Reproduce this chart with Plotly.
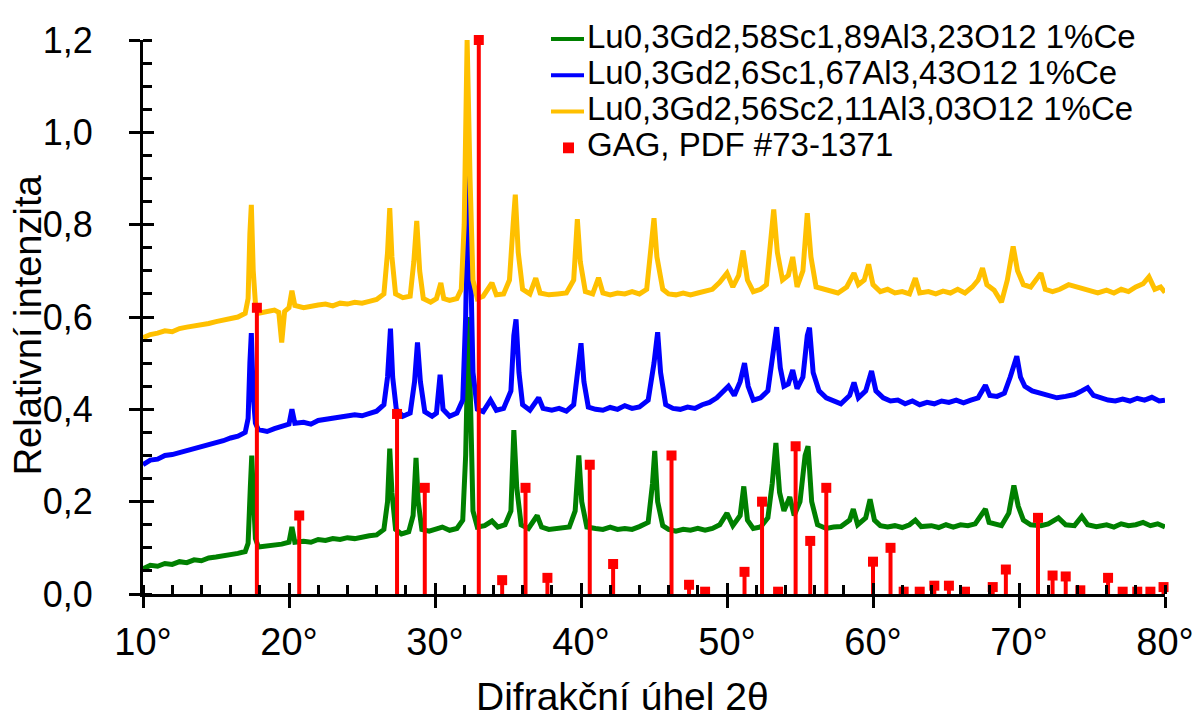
import plotly.graph_objects as go

# ---------------- data ----------------
green_name = "Lu0,3Gd2,58Sc1,89Al3,23O12 1%Ce"
blue_name = "Lu0,3Gd2,6Sc1,67Al3,43O12 1%Ce"
yellow_name = "Lu0,3Gd2,56Sc2,11Al3,03O12 1%Ce"
pdf_name = "GAG, PDF #73-1371"

green_x = [10.0, 10.5, 11.0, 11.5, 12.0, 12.5, 13.0, 13.5, 14.0, 14.5, 15.0, 15.5, 16.0, 16.5, 17.0,
           17.2, 17.35, 17.45, 17.55, 17.7, 17.9, 18.5, 19.0, 19.5, 20.0, 20.2, 20.4, 21.0, 21.5, 22.0,
           22.5, 23.0, 23.5, 24.0, 24.5, 25.0, 25.5, 26.0, 26.5, 26.75, 26.9, 27.05, 27.3, 27.7, 28.2,
           28.5, 28.7, 28.85, 29.1, 29.6, 30.0, 30.5, 31.0, 31.5, 31.9, 32.1, 32.3, 32.45, 32.6, 32.9,
           33.4, 33.9, 34.3, 34.8, 35.2, 35.4, 35.6, 35.9, 36.4, 37.0, 37.3, 37.8, 38.5, 39.2, 39.6,
           39.85, 40.05, 40.4, 41.0, 41.5, 42.0, 42.5, 43.0, 43.5, 44.0, 44.6, 44.9, 45.05, 45.25, 45.6,
           46.0, 46.5, 47.0, 47.5, 48.0, 48.5, 49.0, 49.5, 50.0, 50.4, 50.9, 51.15, 51.4, 51.8, 52.3,
           52.8, 53.1, 53.35, 53.6, 53.9, 54.3, 54.6, 55.0, 55.35, 55.55, 55.8, 56.2, 56.8, 57.3, 57.8,
           58.4, 58.65, 58.95, 59.5, 59.8, 60.1, 60.5, 61.0, 61.5, 62.0, 62.5, 62.9, 63.3, 64.0, 64.5,
           65.0, 65.5, 66.0, 66.5, 67.0, 67.5, 67.7, 67.95, 68.4, 68.8, 69.3, 69.65, 69.95, 70.3, 70.8,
           71.5, 72.0, 72.7, 73.2, 73.8, 74.3, 74.7, 75.3, 76.0, 76.5, 77.0, 77.5, 78.0, 78.5, 79.0,
           79.5, 80.0]
green_y = [0.055, 0.062, 0.060, 0.066, 0.064, 0.070, 0.068, 0.074, 0.072, 0.078, 0.080, 0.082, 0.086, 0.088, 0.092,
           0.110, 0.230, 0.300, 0.220, 0.120, 0.102, 0.104, 0.106, 0.108, 0.112, 0.145, 0.112, 0.114, 0.112, 0.118,
           0.116, 0.120, 0.118, 0.122, 0.120, 0.124, 0.126, 0.128, 0.140, 0.200, 0.315, 0.220, 0.140, 0.130, 0.135,
           0.170, 0.295, 0.200, 0.140, 0.136, 0.140, 0.145, 0.138, 0.142, 0.160, 0.300, 0.600, 0.350, 0.180, 0.145,
           0.148, 0.158, 0.145, 0.150, 0.180, 0.355, 0.230, 0.150, 0.142, 0.170, 0.145, 0.140, 0.142, 0.145, 0.180,
           0.300, 0.200, 0.145, 0.142, 0.140, 0.145, 0.140, 0.142, 0.140, 0.146, 0.155, 0.240, 0.310, 0.200, 0.148,
           0.140, 0.136, 0.140, 0.138, 0.142, 0.138, 0.142, 0.150, 0.175, 0.148, 0.170, 0.233, 0.160, 0.142, 0.145,
           0.165, 0.240, 0.327, 0.220, 0.180, 0.210, 0.170, 0.200, 0.300, 0.320, 0.200, 0.150, 0.142, 0.145, 0.146,
           0.160, 0.184, 0.150, 0.165, 0.205, 0.160, 0.148, 0.145, 0.148, 0.144, 0.150, 0.160, 0.146, 0.148, 0.144,
           0.150, 0.145, 0.150, 0.148, 0.152, 0.175, 0.184, 0.155, 0.150, 0.148, 0.175, 0.235, 0.190, 0.160, 0.150,
           0.148, 0.152, 0.165, 0.150, 0.148, 0.168, 0.150, 0.146, 0.150, 0.145, 0.152, 0.148, 0.150, 0.155, 0.148,
           0.152, 0.145]

blue_x = [10.0, 10.5, 11.0, 11.5, 12.0, 12.5, 13.0, 13.5, 14.0, 14.5, 15.0, 15.5, 16.0, 16.5, 17.0,
          17.2, 17.32, 17.42, 17.55, 17.7, 17.9, 18.5, 19.0, 19.5, 20.0, 20.2, 20.4, 21.0, 21.5, 22.0,
          22.5, 23.0, 23.5, 24.0, 24.5, 25.0, 25.5, 26.0, 26.5, 26.75, 26.95, 27.1, 27.35, 27.8, 28.3,
          28.6, 28.8, 29.0, 29.3, 29.8, 30.1, 30.35, 30.55, 31.0, 31.5, 31.9, 32.1, 32.3, 32.45, 32.6,
          32.9, 33.3, 33.8, 34.2, 34.7, 35.2, 35.4, 35.55, 35.75, 36.0, 36.5, 37.1, 37.4, 38.0, 38.5,
          39.0, 39.5, 39.8, 40.0, 40.2, 40.5, 41.0, 41.5, 42.0, 42.5, 43.0, 43.5, 44.0, 44.6, 45.0,
          45.25, 45.45, 45.8, 46.3, 46.8, 47.3, 47.8, 48.3, 48.8, 49.3, 49.7, 50.1, 50.5, 50.9, 51.2,
          51.45, 51.8, 52.3, 52.8, 53.1, 53.4, 53.65, 53.9, 54.2, 54.5, 54.8, 55.2, 55.5, 55.65, 55.9,
          56.3, 56.8, 57.3, 57.8, 58.4, 58.7, 59.0, 59.5, 59.9, 60.2, 60.7, 61.2, 61.7, 62.2, 62.7,
          63.2, 63.7, 64.2, 64.7, 65.2, 65.7, 66.2, 66.7, 67.2, 67.7, 68.0, 68.5, 69.0, 69.4, 69.85,
          70.1, 70.4, 70.9, 71.4, 72.0, 72.6, 73.2, 73.8, 74.3, 74.7, 75.1, 75.6, 76.1, 76.6, 77.1,
          77.6, 78.1, 78.6, 79.1, 79.6, 80.0]
blue_y = [0.280, 0.290, 0.292, 0.300, 0.302, 0.306, 0.310, 0.315, 0.318, 0.322, 0.328, 0.332, 0.338, 0.342, 0.350,
          0.380, 0.500, 0.565, 0.430, 0.370, 0.356, 0.352, 0.358, 0.362, 0.368, 0.400, 0.370, 0.372, 0.368, 0.376,
          0.378, 0.380, 0.382, 0.386, 0.388, 0.386, 0.392, 0.396, 0.410, 0.470, 0.575, 0.470, 0.400, 0.385, 0.392,
          0.460, 0.545, 0.460, 0.395, 0.385, 0.392, 0.475, 0.400, 0.385, 0.392, 0.420, 0.600, 0.960, 0.700, 0.480,
          0.400, 0.395, 0.420, 0.398, 0.402, 0.440, 0.560, 0.595, 0.480, 0.410, 0.398, 0.425, 0.402, 0.398, 0.402,
          0.396, 0.410, 0.500, 0.543, 0.460, 0.405, 0.400, 0.398, 0.404, 0.400, 0.408, 0.402, 0.405, 0.420, 0.500,
          0.567, 0.480, 0.410, 0.402, 0.400, 0.405, 0.402, 0.410, 0.415, 0.425, 0.437, 0.450, 0.430, 0.460, 0.500,
          0.450, 0.420, 0.425, 0.440, 0.520, 0.578, 0.490, 0.450, 0.455, 0.485, 0.445, 0.470, 0.560, 0.577, 0.480,
          0.440, 0.425, 0.418, 0.412, 0.430, 0.458, 0.425, 0.440, 0.483, 0.440, 0.425, 0.418, 0.420, 0.412, 0.418,
          0.410, 0.415, 0.412, 0.418, 0.415, 0.420, 0.414, 0.420, 0.425, 0.452, 0.430, 0.428, 0.435, 0.470, 0.515,
          0.470, 0.450, 0.440, 0.435, 0.430, 0.425, 0.428, 0.432, 0.440, 0.447, 0.430, 0.425, 0.420, 0.418, 0.422,
          0.418, 0.424, 0.420, 0.426, 0.418, 0.420]

yellow_x = [10.0, 10.5, 11.0, 11.5, 12.0, 12.5, 13.0, 13.5, 14.0, 14.5, 15.0, 15.5, 16.0, 16.5, 17.0,
            17.2, 17.32, 17.42, 17.55, 17.7, 17.9, 18.5, 19.0, 19.3, 19.5, 19.7, 20.0, 20.2, 20.4, 21.0,
            21.5, 22.0, 22.5, 23.0, 23.5, 24.0, 24.5, 25.0, 25.5, 26.0, 26.5, 26.75, 26.9, 27.05, 27.3,
            27.8, 28.3, 28.55, 28.75, 28.95, 29.2, 29.7, 30.1, 30.4, 30.6, 31.0, 31.5, 31.8, 32.0, 32.2,
            32.4, 32.6, 32.9, 33.3, 33.9, 34.2, 34.7, 35.1, 35.35, 35.5, 35.7, 36.0, 36.5, 36.9, 37.2,
            37.8, 38.4, 39.0, 39.5, 39.75, 39.95, 40.3, 40.8, 41.2, 41.5, 42.0, 42.5, 43.0, 43.5, 44.0,
            44.5, 44.8, 45.0, 45.2, 45.6, 46.0, 46.5, 47.0, 47.5, 48.0, 48.5, 49.0, 49.5, 50.0, 50.4,
            50.8, 51.1, 51.4, 51.8, 52.3, 52.7, 53.0, 53.2, 53.45, 53.8, 54.2, 54.5, 54.8, 55.2, 55.5,
            55.75, 56.1, 56.6, 57.1, 57.6, 58.2, 58.7, 59.0, 59.4, 59.7, 60.0, 60.5, 61.0, 61.5, 62.0,
            62.5, 62.9, 63.2, 63.8, 64.3, 64.8, 65.3, 65.8, 66.3, 66.8, 67.2, 67.5, 67.8, 68.3, 68.8,
            69.2, 69.6, 69.9, 70.3, 70.8, 71.5, 71.8, 72.3, 72.8, 73.4, 73.9, 74.4, 74.9, 75.4, 76.0,
            76.5, 77.0, 77.5, 78.0, 78.5, 78.9, 79.3, 79.7, 80.0]
yellow_y = [0.555, 0.562, 0.565, 0.570, 0.568, 0.575, 0.578, 0.580, 0.584, 0.586, 0.590, 0.594, 0.596, 0.600, 0.608,
            0.640, 0.780, 0.843, 0.700, 0.630, 0.608, 0.612, 0.615, 0.610, 0.545, 0.612, 0.620, 0.657, 0.625, 0.620,
            0.624, 0.626, 0.628, 0.624, 0.630, 0.628, 0.632, 0.630, 0.634, 0.638, 0.650, 0.740, 0.836, 0.730, 0.650,
            0.642, 0.645, 0.720, 0.808, 0.700, 0.640, 0.632, 0.640, 0.674, 0.640, 0.636, 0.640, 0.660, 0.800, 1.200,
            0.900, 0.680, 0.640, 0.645, 0.674, 0.648, 0.650, 0.680, 0.800, 0.865, 0.740, 0.660, 0.650, 0.684, 0.652,
            0.648, 0.650, 0.652, 0.680, 0.812, 0.720, 0.655, 0.650, 0.685, 0.652, 0.648, 0.652, 0.650, 0.655, 0.650,
            0.660, 0.740, 0.814, 0.730, 0.660, 0.650, 0.648, 0.652, 0.648, 0.652, 0.655, 0.660, 0.675, 0.695, 0.665,
            0.690, 0.744, 0.680, 0.655, 0.660, 0.670, 0.760, 0.833, 0.740, 0.680, 0.690, 0.730, 0.665, 0.700, 0.825,
            0.730, 0.665, 0.660, 0.655, 0.652, 0.665, 0.695, 0.670, 0.680, 0.714, 0.670, 0.655, 0.660, 0.652, 0.655,
            0.650, 0.684, 0.652, 0.655, 0.650, 0.656, 0.652, 0.660, 0.652, 0.665, 0.680, 0.706, 0.670, 0.658, 0.632,
            0.680, 0.753, 0.700, 0.670, 0.665, 0.695, 0.660, 0.655, 0.660, 0.670, 0.665, 0.660, 0.655, 0.652, 0.658,
            0.652, 0.660, 0.655, 0.665, 0.672, 0.687, 0.660, 0.665, 0.653]

pdf_x = [17.8, 20.7, 27.4, 29.3, 33.0, 34.6, 36.2, 37.7, 40.6, 42.2, 46.2, 47.4, 48.5, 51.2, 52.4,
         53.5, 54.7, 55.7, 56.8, 60.0, 61.2, 62.1, 63.2, 64.2, 65.2, 66.3, 68.2, 69.1, 71.3, 72.3,
         73.2, 74.2, 76.1, 77.1, 78.1, 79.0, 79.9]
pdf_y = [0.62, 0.17, 0.39, 0.23, 1.20, 0.03, 0.23, 0.035, 0.28, 0.065, 0.30, 0.02, 0.005, 0.048, 0.20,
         0.005, 0.32, 0.115, 0.23, 0.07, 0.10, 0.005, 0.005, 0.018, 0.018, 0.005, 0.015, 0.053, 0.165, 0.04,
         0.038, 0.008, 0.035, 0.005, 0.005, 0.005, 0.015]

x_ticks = [10, 20, 30, 40, 50, 60, 70, 80]
x_ticktext = ["10°", "20°", "30°", "40°", "50°", "60°", "70°", "80°"]
y_ticks = [0.0, 0.2, 0.4, 0.6, 0.8, 1.0, 1.2]
y_ticktext = ["0,0", "0,2", "0,4", "0,6", "0,8", "1,0", "1,2"]

colors = {"green": "#008000", "blue": "#0000FF", "yellow": "#FFC000", "red": "#FF0000"}

FONT = "Liberation Sans, Arial, sans-serif"

# ---------------- figure ----------------
fig = go.Figure()

for xs, ys, c, name in [(green_x, green_y, colors["green"], green_name),
                        (blue_x, blue_y, colors["blue"], blue_name),
                        (yellow_x, yellow_y, colors["yellow"], yellow_name)]:
    fig.add_trace(go.Scatter(x=xs, y=ys, mode="lines", name=name,
                             line=dict(color=c, width=5), showlegend=False))

# stick pattern: stems
stem_x, stem_y = [], []
for xv, yv in zip(pdf_x, pdf_y):
    stem_x += [xv, xv, None]
    stem_y += [0, yv, None]
fig.add_trace(go.Scatter(x=stem_x, y=stem_y, mode="lines", line=dict(color=colors["red"], width=4),
                         showlegend=False, hoverinfo="skip", cliponaxis=False))
fig.add_trace(go.Scatter(x=pdf_x, y=pdf_y, mode="markers", name=pdf_name,
                         marker=dict(symbol="square", size=10, color=colors["red"]),
                         showlegend=False, cliponaxis=False))

# dummy trace for overlay axes (inside half of crossing major ticks)
fig.add_trace(go.Scatter(x=[None], y=[None], xaxis="x2", yaxis="y2", showlegend=False, hoverinfo="skip"))

W, H = 1201, 720
L, R, T, B = 135, 44, 21, 134
pw, ph = W - L - R, H - T - B
OFF = 8  # page body margin


def px(xs):
    """screen x (as seen in the photo) -> paper x"""
    return (xs - OFF - L) / pw


def py(ys):
    """screen y (as seen in the photo) -> paper y"""
    return (H - B - (ys - OFF)) / ph


fig.update_layout(
    width=W, height=H,
    margin=dict(l=L, r=R, t=T, b=B),
    paper_bgcolor="white", plot_bgcolor="white",
    separators=", ",
    font=dict(family=FONT, color="black"),
    showlegend=False,
    xaxis=dict(range=[10, 80], tickvals=x_ticks, ticktext=x_ticktext, showgrid=False, zeroline=False,
               showline=True, linecolor="black", linewidth=3, ticks="outside", ticklen=11, tickwidth=3,
               tickcolor="black", tickfont=dict(size=38, family=FONT, color="black"),
               ticklabelstandoff=1,
               minor=dict(ticks="inside", dtick=2, tick0=10, ticklen=9, tickwidth=3, tickcolor="black",
                          showgrid=False)),
    yaxis=dict(range=[0, 1.2], tickvals=y_ticks, ticktext=y_ticktext, showgrid=False, zeroline=False,
               showline=True, linecolor="black", linewidth=3, ticks="outside", ticklen=11, tickwidth=3,
               tickcolor="black", tickfont=dict(size=36, family=FONT, color="black"),
               ticklabelstandoff=29,
               minor=dict(ticks="inside", dtick=0.05, tick0=0, ticklen=9, tickwidth=3, tickcolor="black",
                          showgrid=False)),
    xaxis2=dict(range=[10, 80], overlaying="x", anchor="y", side="bottom", tickvals=x_ticks,
                showticklabels=False, showgrid=False, zeroline=False, showline=False,
                ticks="inside", ticklen=11, tickwidth=3, tickcolor="black"),
    yaxis2=dict(range=[0, 1.2], overlaying="y", anchor="x", side="left", tickvals=y_ticks,
                showticklabels=False, showgrid=False, zeroline=False, showline=False,
                ticks="inside", ticklen=11, tickwidth=3, tickcolor="black"),
)

# axis titles
fig.add_annotation(text="Relativní intenzita", xref="paper", yref="paper", x=px(28), y=py(320),
                   textangle=-90, showarrow=False, xanchor="center", yanchor="middle",
                   font=dict(size=38, family=FONT, color="black"))
fig.add_annotation(text="Difrakční úhel 2θ", xref="paper", yref="paper", x=px(622), y=py(699),
                   showarrow=False, xanchor="center", yanchor="middle",
                   font=dict(size=39, family=FONT, color="black"))

# legend (built from annotations + samples)
legend_rows = [(green_name, colors["green"], 28, "line"),
               (blue_name, colors["blue"], 65, "line"),
               (yellow_name, colors["yellow"], 102, "line"),
               (pdf_name, colors["red"], 139, "square")]
for name, c, yrow, kind in legend_rows:
    fig.add_annotation(text=name, xref="paper", yref="paper", x=px(585), y=py(yrow - 3),
                       showarrow=False, xanchor="left", yanchor="middle",
                       font=dict(size=33, family=FONT, color="black"))
    if kind == "line":
        fig.add_shape(type="line", xref="paper", yref="paper", x0=px(551), x1=px(584),
                      y0=py(yrow), y1=py(yrow), line=dict(color=c, width=4))
    else:
        fig.add_shape(type="rect", xref="paper", yref="paper", x0=px(563), x1=px(574),
                      y0=py(yrow + 5.5), y1=py(yrow - 5.5), line=dict(width=0), fillcolor=c)

fig.write_html("out.html")
